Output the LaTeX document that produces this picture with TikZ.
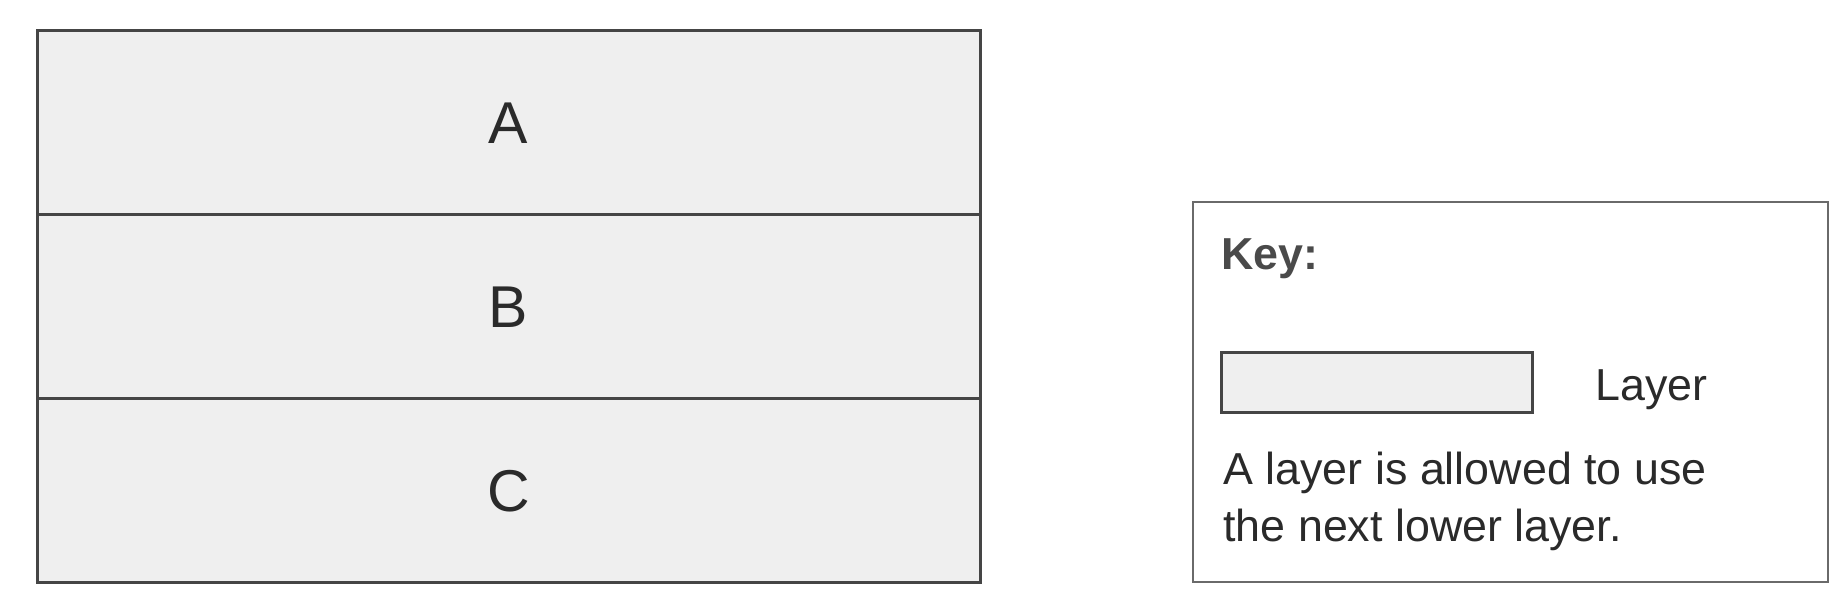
\documentclass[tikz,border=0pt]{standalone}
\usepackage{fontspec}
\setmainfont{Liberation Sans}
\usepackage{tikz}

\definecolor{layerfill}{HTML}{EFEFEF}
\definecolor{edgegray}{HTML}{454545}
\definecolor{textgray}{HTML}{2A2A2A}

\begin{document}
\begin{tikzpicture}[x=0.5pt, y=-0.5pt,
  layerbox/.style={draw=edgegray, fill=layerfill, line width=1.5pt,
    minimum width=471.5pt, minimum height=92pt, inner sep=0pt,
    font=\fontsize{29.5}{36}\selectfont, text=textgray},
  keytext/.style={anchor=base west, inner sep=0pt, text=textgray,
    font=\fontsize{22.4}{28}\selectfont}]
\useasboundingbox (0,0) rectangle (1848,608);

% The three layers
\node[layerbox] (layA) at (508.5,123) {A};
\node[layerbox] (layB) at (508.5,307) {B};
\node[layerbox] (layC) at (508.5,491) {C};

% Key
\node[draw=edgegray!80, line width=1.4pt, minimum width=317.5pt,
  minimum height=190pt, inner sep=0pt] (key) at (1510.5,392) {};
\node[keytext, font=\bfseries\fontsize{22.4}{28}\selectfont, text=textgray!85] (keytitle) at (1221,270) {Key:};
\node[layerbox, minimum width=155.5pt, minimum height=30pt] (sample) at (1376.5,383) {};
\node[keytext] (samplelabel) at (1595,401) {Layer};
\node[keytext] (rule1) at (1223,485) {A layer is allowed to use};
\node[keytext] (rule2) at (1223,542) {the next lower layer.};
\end{tikzpicture}
\end{document}
